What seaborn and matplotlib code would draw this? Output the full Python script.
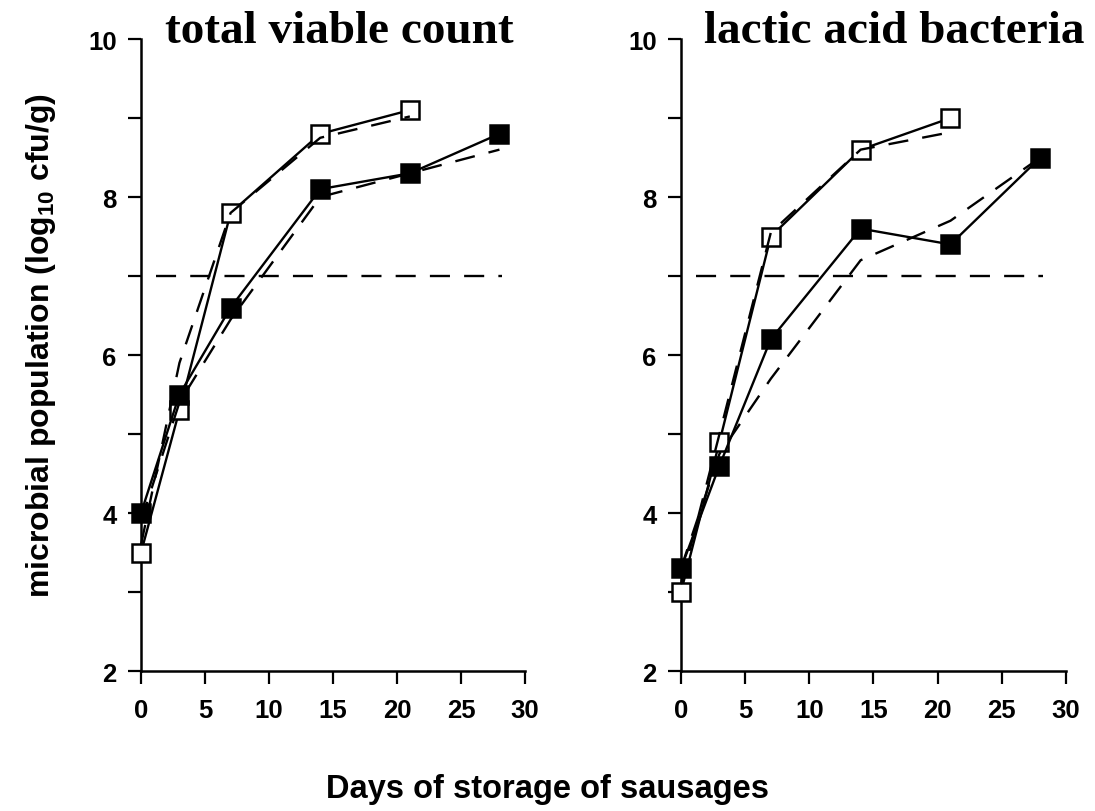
import matplotlib
matplotlib.use("Agg")
import matplotlib.pyplot as plt
import seaborn as sns
import numpy as np
from matplotlib.ticker import MultipleLocator

# ---------------- data ----------------
days_open = [0, 3, 7, 14, 21]
days_filled = [0, 3, 7, 14, 21, 28]

tvc_open = [3.5, 5.3, 7.8, 8.8, 9.1]
tvc_filled = [4.0, 5.5, 6.6, 8.1, 8.3, 8.8]
tvc_open_fit = [3.6, 5.9, 7.8, 8.75, 9.02]
tvc_filled_fit = [3.9, 5.4, 6.45, 8.0, 8.3, 8.6]

lab_open = [3.0, 4.9, 7.5, 8.6, 9.0]
lab_filled = [3.3, 4.6, 6.2, 7.6, 7.4, 8.5]
lab_open_fit = [3.1, 5.0, 7.55, 8.6, 8.82]
lab_filled_fit = [3.3, 4.75, 5.7, 7.2, 7.7, 8.5]

threshold = 7
titles = ["total viable count", "lactic acid bacteria"]
x_ticks = [0, 5, 10, 15, 20, 25, 30]
y_ticks = [2, 4, 6, 8, 10]

# ---------------- style ----------------
sns.set_style("ticks")
plt.rcParams["font.family"] = ["Liberation Sans", "DejaVu Sans"]
plt.rcParams["font.weight"] = "bold"
plt.rcParams["mathtext.fontset"] = "custom"
plt.rcParams["mathtext.bf"] = "Liberation Sans:bold"
plt.rcParams["mathtext.rm"] = "Liberation Sans:bold"
for k in ["text.color", "axes.labelcolor", "xtick.color", "ytick.color",
          "axes.edgecolor"]:
    plt.rcParams[k] = "black"

fig = plt.figure(figsize=(10.95, 8.12), dpi=100)
ax1 = fig.add_axes([0.1288, 0.1724, 0.3507, 0.7783])
ax2 = fig.add_axes([0.6219, 0.1724, 0.3516, 0.7783])

dash = (8.5, 6)
panels = [
    (ax1, tvc_open, tvc_filled, tvc_open_fit, tvc_filled_fit),
    (ax2, lab_open, lab_filled, lab_open_fit, lab_filled_fit),
]

for ax, yo, yf, yof, yff in panels:
    # open squares, solid line
    sns.lineplot(x=days_open, y=yo, ax=ax, color="black", lw=1.7,
                 marker="s", markersize=13, markerfacecolor="white",
                 markeredgecolor="black", markeredgewidth=1.8,
                 clip_on=False, zorder=3)
    # filled squares, solid line
    sns.lineplot(x=days_filled, y=yf, ax=ax, color="black", lw=1.7,
                 marker="s", markersize=13, markerfacecolor="black",
                 markeredgecolor="black", markeredgewidth=1.8,
                 clip_on=False, zorder=4)
    # fitted curves, dashed
    sns.lineplot(x=days_open, y=yof, ax=ax, color="black", lw=1.7,
                 clip_on=False, zorder=5).lines[-1].set_dashes(dash)
    sns.lineplot(x=days_filled, y=yff, ax=ax, color="black", lw=1.7,
                 clip_on=False, zorder=5).lines[-1].set_dashes(dash)
    # threshold
    ax.axhline(threshold, xmin=0.04, xmax=0.94, color="black", lw=1.7,
               dashes=dash, zorder=2)

    ax.set_xlim(0, 30)
    ax.set_ylim(2, 10)
    ax.set_xticks(x_ticks)
    ax.set_yticks(y_ticks)
    ax.yaxis.set_minor_locator(MultipleLocator(1))
    ax.tick_params(axis="both", which="both", direction="out", length=9.5,
                   width=1.6, color="black", labelsize=18.5)
    ax.tick_params(axis="x", which="major", pad=10)
    ax.tick_params(axis="y", which="major", pad=8)
    for lab in ax.get_xticklabels() + ax.get_yticklabels():
        lab.set_fontweight("bold")
    ax.set_xlabel("")
    ax.set_ylabel("")
    sns.despine(ax=ax)
    for s in ["left", "bottom"]:
        ax.spines[s].set_linewidth(1.8)
        ax.spines[s].set_color("black")

fig.text(339 / 1095, 1 - 43 / 812, titles[0], ha="center", va="baseline",
         fontsize=34, fontweight="bold",
         family=["Liberation Serif", "DejaVu Serif"])
fig.text(894 / 1095, 1 - 43 / 812, titles[1], ha="center", va="baseline",
         fontsize=34, fontweight="bold",
         family=["Liberation Serif", "DejaVu Serif"])

fig.text(41 / 1095, 1 - 346 / 812,
         r"microbial population (log$_\mathbf{10}$ cfu/g)",
         rotation=90, ha="center", va="center", fontsize=23,
         fontweight="bold")
fig.text(547 / 1095, 1 - 798 / 812, "Days of storage of sausages",
         ha="center", va="baseline", fontsize=23.5, fontweight="bold")

fig.savefig("out.png", dpi=100)
